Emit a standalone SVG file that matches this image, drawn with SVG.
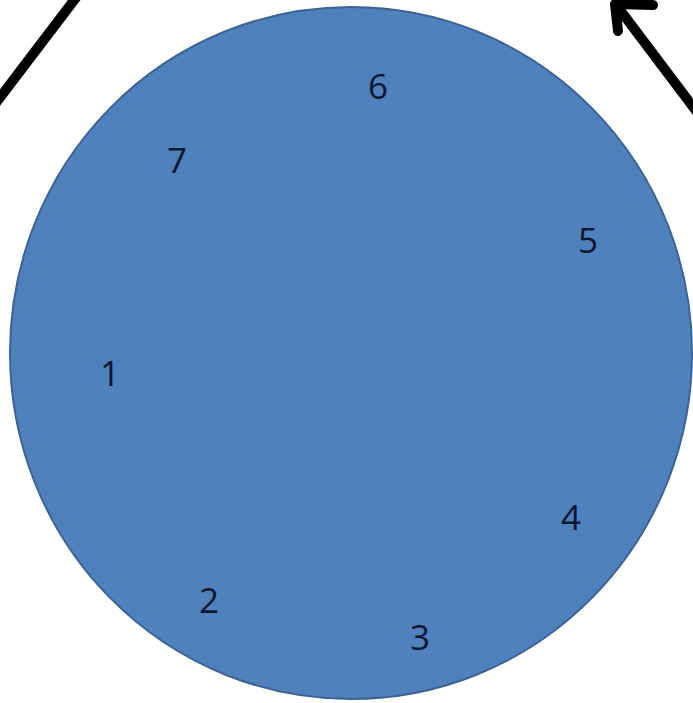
<svg xmlns="http://www.w3.org/2000/svg" width="693" height="703" viewBox="0 0 693 703">
<style>
.lbl{font-family:"Open Sans","Liberation Sans",sans-serif;font-size:35px;fill:#0d1730;text-anchor:middle}
.conn{stroke:#000;stroke-width:10;fill:none;stroke-linecap:round;stroke-linejoin:round}
</style>
<rect width="693" height="703" fill="#fff"/>
<g id="circle">
<ellipse cx="351" cy="353" rx="341" ry="346" fill="#4f81bd" stroke="#3b6494" stroke-width="2"/>
<text class="lbl" x="378" y="99">6</text>
<text class="lbl" x="177" y="173">7</text>
<text class="lbl" x="588" y="253">5</text>
<text class="lbl" x="110" y="386">1</text>
<text class="lbl" x="571" y="530">4</text>
<text class="lbl" x="209" y="613">2</text>
<text class="lbl" x="420" y="650">3</text>
</g>
<g id="connectors">
<line class="conn" x1="-5" y1="104" x2="78" y2="-5" style="stroke-linecap:butt"/>
<line class="conn" x1="700" y1="116" x2="617" y2="6" style="stroke-linecap:butt"/>
<polyline class="conn" points="618,31 615,4 653,5"/>
</g>
</svg>
